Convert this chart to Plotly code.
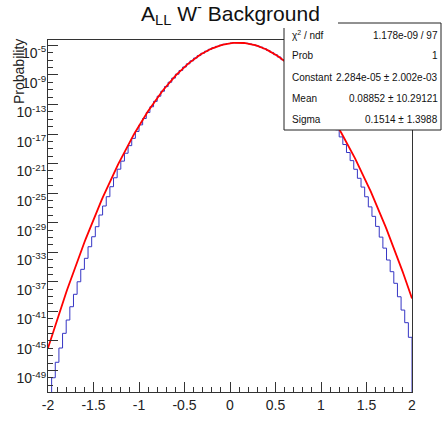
import numpy as np
import plotly.graph_objects as go

# ---- data ----
bin_low, bin_high, n_bins = -2.0, 2.0, 100
# histogram contents (log10 of probability), one per bin
hist_log10 = [
    -53.0, -49.98, -47.89, -45.96, -43.97, -42.17, -40.37, -38.69, -36.99, -35.31,
    -33.82, -32.25, -30.90, -29.54, -27.96, -26.74, -25.48, -24.13, -22.92, -21.76,
    -20.67, -19.60, -18.57, -17.59, -16.65, -15.76, -14.90, -14.09, -13.31, -12.58,
    -11.88, -11.21, -10.58, -9.99, -9.43, -8.90, -8.40, -7.93, -7.50, -7.10,
    -6.72, -6.38, -6.07, -5.79, -5.54, -5.32, -5.14, -4.98, -4.85, -4.75,
    -4.69, -4.65, -4.64, -4.67, -4.72, -4.81, -4.92, -5.07, -5.24, -5.45,
    -5.69, -5.96, -6.26, -6.58, -6.94, -7.34, -7.76, -8.21, -8.70, -9.22,
    -9.77, -10.36, -10.98, -11.64, -12.34, -13.07, -13.85, -14.66, -15.53, -16.43,
    -17.39, -18.42, -19.50, -20.60, -21.77, -22.99, -24.18, -25.49, -26.86, -28.14,
    -29.50, -30.95, -32.44, -34.05, -35.63, -37.20, -39.02, -40.82, -42.53, -44.51,
]
# fit results (gaus) shown in the stats box
fit_constant = 2.284e-05
fit_mean = 0.08852
fit_sigma = 0.1514
stats_labels = ["χ<sup>2</sup> / ndf", "Prob", "Constant", "Mean", "Sigma"]
stats_values = ["1.178e-09 / 97", "1", "2.284e-05 ± 2.002e-03",
                "0.08852 ± 10.29121", "0.1514 ± 1.3988"]
x_tick_vals = [-2, -1.5, -1, -0.5, 0, 0.5, 1, 1.5, 2]
x_tick_text = ["-2", "-1.5", "-1", "-0.5", "0", "0.5", "1", "1.5", "2"]
y_tick_exps = [-5, -9, -13, -17, -21, -25, -29, -33, -37, -41, -45, -49]

# ---- build ----
W, H = 443, 422
L, R, T, B = 48, 31, 40, 30
PW, PH = W - L - R, H - T - B

edges = np.linspace(bin_low, bin_high, n_bins + 1)
hist_vals = [10.0 ** v for v in hist_log10]
hx = list(edges[:-1]) + [edges[-1], edges[-1]]
hy = hist_vals + [hist_vals[-1], 1e-80]

fx = np.linspace(bin_low, bin_high, 300)
fy_log = np.log10(fit_constant) - ((fx - fit_mean) ** 2) / (2 * fit_sigma ** 2) / np.log(10)
fy = 10.0 ** fy_log

fig = go.Figure()
fig.add_trace(go.Scatter(x=hx, y=hy, mode="lines", line=dict(color="#3535c4", width=1, shape="hv"),
                         hoverinfo="skip", showlegend=False))
fig.add_trace(go.Scatter(x=fx, y=fy, mode="lines", line=dict(color="#ff0000", width=1.8),
                         hoverinfo="skip", showlegend=False))

font_fam = "Liberation Sans, Arial, sans-serif"

fig.update_layout(
    width=W, height=H,
    margin=dict(l=L, r=R, t=T, b=B, autoexpand=False),
    paper_bgcolor="white", plot_bgcolor="white",
    font=dict(family=font_fam, color="#222"),
    showlegend=False,
)
fig.update_xaxes(
    range=[bin_low, bin_high], showgrid=False, zeroline=False, automargin=False,
    showline=True, linecolor="#333", linewidth=1, mirror=True,
    ticks="inside", ticklen=10, tickcolor="#333", tickwidth=1,
    tickmode="array", tickvals=x_tick_vals, ticktext=x_tick_text,
    tickfont=dict(size=14, family=font_fam, color="#222"),
    minor=dict(dtick=0.1, ticks="inside", ticklen=5, tickcolor="#333", tickwidth=1),
)
fig.update_yaxes(
    type="log", range=[-51.91, -4.276], showgrid=False, zeroline=False, automargin=False,
    showline=True, linecolor="#333", linewidth=1, mirror=True,
    ticks="inside", ticklen=10, tickcolor="#333", tickwidth=1,
    tickmode="array", tickvals=[10.0 ** e for e in y_tick_exps],
    ticktext=["10<sup>%d</sup>" % e for e in y_tick_exps],
    tickfont=dict(size=14, family=font_fam, color="#222"),
    ticklabelshift=8, ticklabelstandoff=-2,
    minor=dict(tickmode="array", tickvals=[10.0 ** (-e) for e in range(5, 52)],
               ticks="inside", ticklen=5, tickcolor="#333", tickwidth=1),
)

def px(x):
    return (x - L) / PW

def py(y):
    return (H - B - y) / PH

shapes = [
    dict(type="rect", xref="paper", yref="paper", x0=px(284), x1=px(441), y0=py(130), y1=py(23),
         line=dict(color="#222", width=1), fillcolor="white", layer="above"),
    dict(type="rect", xref="paper", yref="paper", x0=px(120), x1=px(338), y0=py(28), y1=py(0),
         line=dict(width=0), fillcolor="white", layer="above"),
]
fig.update_layout(shapes=shapes)

ann = []
ann.append(dict(text="A<sub>LL</sub> W<sup>-</sup> Background", x=px(230), y=py(14), xref="paper", yref="paper",
                showarrow=False, xanchor="center", yanchor="middle",
                font=dict(size=21, family=font_fam, color="#111")))
ann.append(dict(text="Probability", x=px(19), y=py(72), xref="paper", yref="paper", textangle=-90,
                showarrow=False, xanchor="center", yanchor="middle",
                font=dict(size=14, family=font_fam, color="#222")))
row_y = [35, 56, 77, 98, 119]
for lab, val, yy in zip(stats_labels, stats_values, row_y):
    ann.append(dict(text=lab, x=px(290), y=py(yy), xref="paper", yref="paper", showarrow=False,
                    xanchor="left", yanchor="middle", font=dict(size=10, family=font_fam, color="#111")))
    ann.append(dict(text=val, x=px(440), y=py(yy), xref="paper", yref="paper", showarrow=False,
                    xanchor="right", yanchor="middle", font=dict(size=10, family=font_fam, color="#111")))
fig.update_layout(annotations=ann)

fig.write_html("out.html", config={"displayModeBar": False},
               post_script="document.body.style.margin='0px';document.body.style.overflow='hidden';")
